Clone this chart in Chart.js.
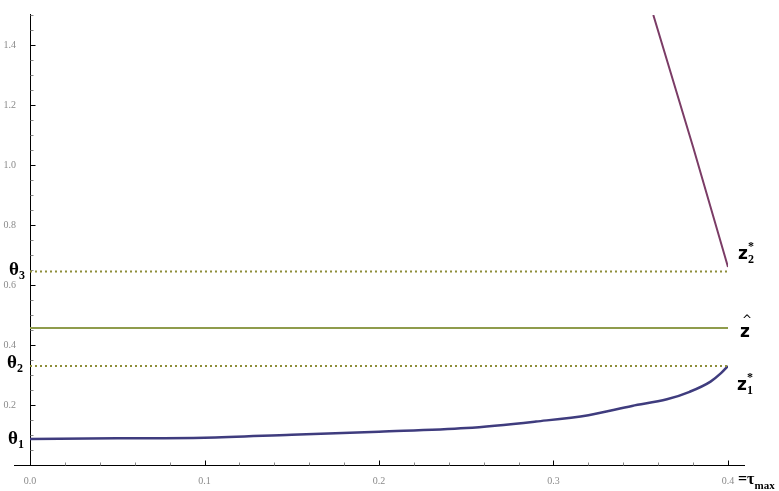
<!DOCTYPE html>
<html>
<head>
<meta charset="utf-8">
<script src="https://cdn.jsdelivr.net/npm/chart.js@4.4.1/dist/chart.umd.min.js"></script>
<style>
  body { margin: 0; background: #fff; }
  #wrap { width: 779px; height: 491px; }
</style>
</head>
<body>
<div id="wrap"><canvas id="graphCanvas"></canvas></div>
<script>
// values
const tauZ1 = [0, 0.05, 0.1, 0.15, 0.2, 0.25, 0.29, 0.32, 0.345, 0.365, 0.378, 0.39, 0.396, 0.4];
const z1Values = [0.087, 0.089, 0.091, 0.101, 0.111, 0.123, 0.145, 0.166, 0.197, 0.219, 0.244, 0.278, 0.306, 0.33];
const tauZ2 = [0.3572, 0.38, 0.4];
const z2Values = [1.5, 1.06, 0.66];
const tauRange = [0, 0.4];
const theta1 = 0.088;
const theta2 = 0.33;
const theta3 = 0.645;
const zHat = 0.457;
const xTickLabels = ["0.0", "0.1", "0.2", "0.3", "0.4"];

function pts(xs, ys) {
  return xs.map((v, i) => ({ x: v, y: ys[i] }));
}
function isMult(v, step) {
  return Math.abs(v / step - Math.round(v / step)) < 1e-6;
}

// axes with inward ticks, like Mathematica
const axesPlugin = {
  id: "mathAxes",
  beforeDatasetsDraw(chart) {
    const { ctx, chartArea: a, scales: { x, y } } = chart;
    const x0 = Math.round(x.getPixelForValue(0)) + 0.5;
    const y0 = Math.round(y.getPixelForValue(0)) + 0.5;
    ctx.save();
    ctx.strokeStyle = "#000";
    ctx.lineWidth = 1;
    ctx.beginPath();
    ctx.moveTo(a.left - 16, y0);
    ctx.lineTo(a.right + 17, y0);
    ctx.moveTo(x0, a.top - 1);
    ctx.lineTo(x0, y0);
    ctx.stroke();
    // x ticks
    x.ticks.forEach(t => {
      if (!isMult(t.value, 0.02) || t.value < 0) return;
      const px = Math.round(x.getPixelForValue(t.value)) + 0.5;
      const major = isMult(t.value, 0.1);
      ctx.strokeStyle = major ? "#000" : "#888";
      ctx.beginPath();
      ctx.moveTo(px, y0);
      ctx.lineTo(px, y0 - (major ? 5 : 3));
      ctx.stroke();
    });
    // y ticks
    y.ticks.forEach(t => {
      if (!isMult(t.value, 0.05) || t.value <= 0) return;
      const py = Math.round(y.getPixelForValue(t.value)) + 0.5;
      const major = isMult(t.value, 0.2);
      ctx.strokeStyle = major ? "#000" : "#888";
      ctx.beginPath();
      ctx.moveTo(x0, py);
      ctx.lineTo(x0 + (major ? 5 : 3), py);
      ctx.stroke();
    });
    ctx.restore();
  },
  afterDraw(chart) {
    const { ctx, scales: { x, y } } = chart;
    const x0 = x.getPixelForValue(0);
    const xEnd = x.getPixelForValue(0.4);
    ctx.save();
    ctx.fillStyle = "#000";
    ctx.textBaseline = "alphabetic";
    function sym(main, sub, sup, px, py, font) {
      ctx.font = font || "bold 19px 'Liberation Serif'";
      ctx.fillText(main, px, py);
      const w = ctx.measureText(main).width;
      ctx.font = "bold 12px 'Liberation Serif'";
      if (sub) ctx.fillText(sub, px + w, py + 4);
      if (sup) ctx.fillText(sup, px + w, py - 9);
    }
    // theta labels on the left
    sym("θ", "3", null, x0 - 21, y.getPixelForValue(theta3) + 3);
    sym("θ", "2", null, x0 - 23, y.getPixelForValue(theta2) + 2);
    sym("θ", "1", null, x0 - 22, y.getPixelForValue(theta1) + 5);
    // z labels on the right
    const zf = "bold 17px 'DejaVu Sans'";
    sym("z", "2", "*", xEnd + 10, y.getPixelForValue(0.7) + 4, zf);
    sym("z", null, null, xEnd + 12, y.getPixelForValue(zHat) + 9, zf);
    ctx.font = "12px 'DejaVu Sans'";
    ctx.fillText("^", xEnd + 14, y.getPixelForValue(zHat) - 4);
    sym("z", "1", "*", xEnd + 9, y.getPixelForValue(0.27) + 6, zf);
    // =tau_max after the 0.4 tick label
    const yb = y.getPixelForValue(0) + 19;
    ctx.font = "bold 16px 'Liberation Serif'";
    ctx.fillText("=τ", xEnd + 10, yb);
    const w = ctx.measureText("=τ").width;
    ctx.font = "bold 11px 'Liberation Serif'";
    ctx.fillText("max", xEnd + 10 + w, yb + 5);
    ctx.restore();
  }
};

let ctx = document.getElementById("graphCanvas").getContext("2d");
let data = {
  datasets: [
    {
      label: "theta3",
      data: pts(tauRange, [theta3, theta3]),
      borderColor: "#8e8e3a",
      borderWidth: 2,
      borderDash: [2, 3],
    },
    {
      label: "theta2",
      data: pts(tauRange, [theta2, theta2]),
      borderColor: "#8e8e3a",
      borderWidth: 2,
      borderDash: [2, 3],
    },
    {
      label: "zhat",
      data: pts(tauRange, [zHat, zHat]),
      borderColor: "#8f9c4c",
      borderWidth: 2,
    },
    {
      label: "z1",
      data: pts(tauZ1, z1Values),
      borderColor: "#3f3c7e",
      borderWidth: 2.5,
      cubicInterpolationMode: "monotone",
    },
    {
      label: "z2",
      data: pts(tauZ2, z2Values),
      borderColor: "#7b3c66",
      borderWidth: 2,
    },
  ],
};
let options = {
  responsive: true,
  maintainAspectRatio: false,
  animation: false,
  layout: { padding: { top: 15, right: 51, left: 0, bottom: 0 } },
  elements: { point: { radius: 0 } },
  scales: {
    x: {
      type: "linear",
      min: 0,
      max: 0.4,
      grid: { display: false },
      border: { display: false },
      afterFit: s => { s.height = 26; },
      ticks: {
        stepSize: 0.02,
        autoSkip: false,
        maxRotation: 0,
        padding: 2,
        color: "#8a8a8a",
        font: { family: "'Liberation Serif'", size: 10 },
        callback: v => (isMult(v, 0.1) ? xTickLabels[Math.round(v * 10)] : ""),
      },
    },
    y: {
      type: "linear",
      min: 0,
      max: 1.5,
      grid: { display: false },
      border: { display: false },
      afterFit: s => { s.width = 30; },
      ticks: {
        stepSize: 0.05,
        autoSkip: false,
        padding: 6,
        color: "#8a8a8a",
        font: { family: "'Liberation Serif'", size: 10 },
        callback: v => (isMult(v, 0.2) && v > 0 ? v.toFixed(1) : ""),
      },
    },
  },
  plugins: {
    legend: { display: false },
    tooltip: { enabled: false },
  },
};
let graphChart = new Chart(ctx, {
  type: "line",
  data: data,
  options: options,
  plugins: [axesPlugin],
});
</script>
</body>
</html>
